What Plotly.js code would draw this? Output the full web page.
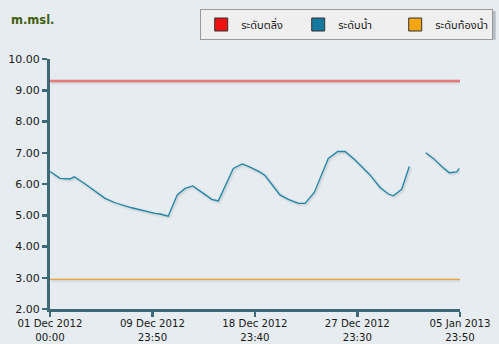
<!DOCTYPE html>
<html>
<head>
<meta charset="utf-8">
<script src="https://cdn.plot.ly/plotly-3.0.1.min.js"></script>
<style>
html,body{margin:0;padding:0;background:#e6ecef;}
#chart{width:499px;height:344px;}
.scatterlayer .trace path.js-line{filter: drop-shadow(1px 1.5px 0.8px rgba(0,0,0,0.22));}
</style>
</head>
<body>
<div id="chart"></div>
<script>
// ---- data ----
const seriesNames = ['ระดับตลิ่ง', 'ระดับน้ำ', 'ระดับท้องน้ำ'];
const seriesColors = ['#ee1111', '#17799f', '#f5a511'];

const bankDates = ['2012-12-01 00:00', '2013-01-05 23:50'];
const bankLevel = [9.30, 9.30];

const bedDates = ['2012-12-01 00:00', '2013-01-05 23:50'];
const bedLevel = [2.95, 2.95];

const waterDates = [
  '2012-12-01 00:00','2012-12-01 21:00','2012-12-02 18:00','2012-12-03 03:00','2012-12-04 02:00',
  '2012-12-05 20:00','2012-12-06 17:00','2012-12-08 04:00','2012-12-10 05:00','2012-12-10 16:00',
  '2012-12-11 09:00','2012-12-12 04:00','2012-12-12 20:30','2012-12-13 12:45','2012-12-14 11:00',
  '2012-12-15 04:45','2012-12-15 18:40','2012-12-17 02:10','2012-12-17 21:10','2012-12-18 13:30',
  '2012-12-19 10:30','2012-12-19 21:00','2012-12-21 04:30','2012-12-21 22:00','2012-12-22 19:10',
  '2012-12-23 09:20','2012-12-24 04:50','2012-12-25 10:20','2012-12-26 06:10','2012-12-26 21:35',
  '2012-12-27 18:40','2012-12-28 15:40','2012-12-29 02:10','2012-12-29 23:20','2012-12-30 16:50',
  '2012-12-31 03:20','2012-12-31 20:55','2013-01-01 13:00','2013-01-02 06:00','2013-01-02 23:30',
  '2013-01-03 15:35','2013-01-04 09:20','2013-01-05 01:10','2013-01-05 16:50','2013-01-05 22:20'
];
const waterLevel = [
  6.40, 6.18, 6.16, 6.23, 6.00,
  5.54, 5.40, 5.24, 5.06, 5.04,
  4.97, 5.65, 5.86, 5.94, 5.70,
  5.51, 5.46, 6.50, 6.64, 6.54,
  6.38, 6.27, 5.65, 5.51, 5.38,
  5.38, 5.73, 6.82, 7.04, 7.04,
  6.77, 6.45, 6.29, 5.89, 5.68,
  5.62, 5.83, 6.56, null, 7.00,
  6.82, 6.56, 6.36, 6.39, 6.50
];

const xTickVals = ['2012-12-01 00:00','2012-12-09 23:50','2012-12-18 23:40','2012-12-27 23:30','2013-01-05 23:50'];
const xTickText = ['01 Dec 2012<br>00:00','09 Dec 2012<br>23:50','18 Dec 2012<br>23:40','27 Dec 2012<br>23:30','05 Jan 2013<br>23:50'];
const yTickVals = [2,3,4,5,6,7,8,9,10];
const yTitle = 'm.msl.';

// ---- chart ----
const axisColor = '#3d6878';
const font = 'Tahoma, "DejaVu Sans", "Noto Sans Thai", sans-serif';

const traces = [
  {x: bankDates, y: bankLevel, mode: 'lines', line: {color: 'rgba(236,80,80,0.7)', width: 2.5}, showlegend: false, hoverinfo: 'skip'},
  {x: bedDates, y: bedLevel, mode: 'lines', line: {color: '#eda33f', width: 1.2}, showlegend: false, hoverinfo: 'skip'},
  {x: waterDates, y: waterLevel, mode: 'lines', line: {color: '#2186a8', width: 1.3}, connectgaps: false, showlegend: false},
];
seriesNames.forEach((n, i) => {
  traces.push({x: [null], y: [null], mode: 'markers', name: n,
    marker: {symbol: 'square', size: 13, color: seriesColors[i], line: {color: '#333', width: 1}}});
});

const layout = {
  width: 499, height: 344,
  margin: {l: 50, r: 39, t: 59, b: 35, pad: 0, autoexpand: false},
  paper_bgcolor: '#e6ecef', plot_bgcolor: '#e6ecef',
  font: {family: font, size: 11, color: '#1a1a1a'},
  xaxis: {
    type: 'date', range: ['2012-12-01 00:00', '2013-01-05 23:50'],
    tickmode: 'array', tickvals: xTickVals, ticktext: xTickText,
    showgrid: false, zeroline: false, showline: true, linecolor: axisColor, linewidth: 3,
    ticks: 'outside', ticklen: 5, tickwidth: 2.5, tickcolor: axisColor, ticklabelstandoff: -2,
    tickfont: {family: font, size: 10.2, color: '#1a1a1a'}, fixedrange: true, automargin: false
  },
  yaxis: {
    range: [2, 10], tickmode: 'array', tickvals: yTickVals, tickformat: '.2f',
    showgrid: false, zeroline: false, showline: true, linecolor: axisColor, linewidth: 3,
    ticks: 'outside', ticklen: 5, tickwidth: 2.5, tickcolor: axisColor,
    tickfont: {family: font, size: 11, color: '#1a1a1a'}, fixedrange: true, automargin: false
  },
  showlegend: true,
  legend: {
    orientation: 'h', x: 1.081, xanchor: 'right', y: 1.2, yanchor: 'top',
    bgcolor: '#efefef', bordercolor: '#9a9a9a', borderwidth: 1,
    font: {family: font, size: 11, color: '#1a1a1a'},
    entrywidth: 52, entrywidthmode: 'pixels', itemwidth: 30
  },
  shapes: [
    {type: 'rect', xref: 'paper', yref: 'paper', x0: 0.374, x1: 1.087, y0: 1.192, y1: 1.077,
     fillcolor: '#b8bcbf', line: {width: 0}, layer: 'below'}
  ],
  annotations: [
    {text: '<b>' + yTitle + '</b>', xref: 'paper', yref: 'paper', x: -0.1, y: 1.155,
     xanchor: 'left', yanchor: 'middle', showarrow: false,
     font: {family: font, size: 11.5, color: '#3f5f10'}}
  ]
};

Plotly.newPlot('chart', traces, layout, {displayModeBar: false, staticPlot: true});
</script>
</body>
</html>
